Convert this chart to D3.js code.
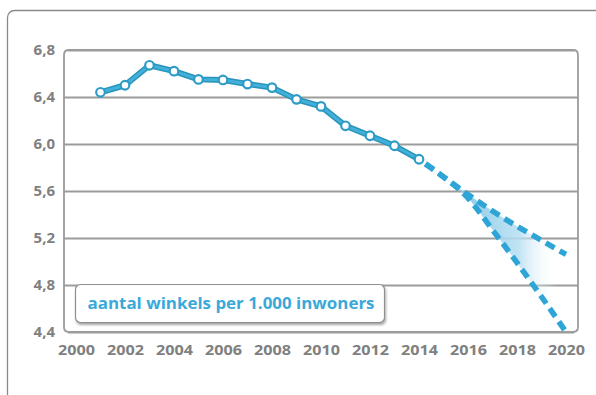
<!DOCTYPE html>
<html>
<head>
<meta charset="utf-8">
<script src="https://cdn.jsdelivr.net/npm/d3@7"></script>
<style>
  html, body { margin: 0; padding: 0; background: #ffffff; }
  svg { display: block; }
  .tick text { font-family: "Open Sans", "Lato", sans-serif; font-weight: 700; fill: #808080; }
</style>
</head>
<body>
<svg id="chart" width="596" height="395"></svg>
<script>
// Shops per 1,000 inhabitants, observed series
const years = [2001, 2002, 2003, 2004, 2005, 2006, 2007, 2008, 2009, 2010, 2011, 2012, 2013, 2014];
const shopsPer1000 = [6.44, 6.50, 6.67, 6.62, 6.55, 6.545, 6.51, 6.48, 6.38, 6.32, 6.155, 6.07, 5.985, 5.87];

// Forecast band: optimistic and pessimistic scenarios
const forecastYears = [2014, 2015, 2016, 2017, 2018, 2019, 2020];
const forecastHigh = [5.87, 5.72, 5.57, 5.43, 5.30, 5.18, 5.06];
const forecastLow = [5.87, 5.72, 5.54, 5.27, 4.99, 4.70, 4.40];

// Axis ticks
const yTicks = [4.4, 4.8, 5.2, 5.6, 6.0, 6.4, 6.8];
const xTicks = [2000, 2002, 2004, 2006, 2008, 2010, 2012, 2014, 2016, 2018, 2020];
const legendLabel = "aantal winkels per 1.000 inwoners";

const svg = d3.select("#chart");

const x = d3.scaleLinear().domain([2000, 2020]).range([76, 566]);
const y = d3.scaleLinear().domain([4.4, 6.8]).range([332, 50]);
const frameLeft = 64, frameRight = 578;

// outer card border
svg.append("rect")
  .attr("x", 7.5).attr("y", 10.5)
  .attr("width", 640).attr("height", 420)
  .attr("rx", 7)
  .attr("fill", "#ffffff")
  .attr("stroke", "#8a8a8a")
  .attr("stroke-width", 1.3);

const defs = svg.append("defs");
const grad = defs.append("linearGradient")
  .attr("id", "bandFade")
  .attr("gradientUnits", "userSpaceOnUse")
  .attr("x1", x(2016.2)).attr("x2", x(2019.6))
  .attr("y1", 0).attr("y2", 0);
grad.append("stop").attr("offset", "0%").attr("stop-color", "#8fcde9").attr("stop-opacity", 0.95);
grad.append("stop").attr("offset", "55%").attr("stop-color", "#b5def1").attr("stop-opacity", 0.85);
grad.append("stop").attr("offset", "100%").attr("stop-color", "#ffffff").attr("stop-opacity", 0);

const shadow = defs.append("filter").attr("id", "boxShadow")
  .attr("x", "-10%").attr("y", "-30%").attr("width", "120%").attr("height", "170%");
shadow.append("feDropShadow")
  .attr("dx", 1).attr("dy", 2).attr("stdDeviation", 1.2)
  .attr("flood-color", "#000").attr("flood-opacity", 0.35);

// plot frame with rounded corners
const r = 5;
svg.append("path")
  .attr("d", `M${frameLeft + r},${y(6.8)} Q${frameLeft},${y(6.8)} ${frameLeft},${y(6.8) + r}
              L${frameLeft},${y(4.4) - r} Q${frameLeft},${y(4.4)} ${frameLeft + r},${y(4.4)}
              L${frameRight - r},${y(4.4)} Q${frameRight},${y(4.4)} ${frameRight},${y(4.4) - r}
              L${frameRight},${y(6.8) + r} Q${frameRight},${y(6.8)} ${frameRight - r},${y(6.8)} Z`)
  .attr("fill", "none")
  .attr("stroke", "#9c9c9c")
  .attr("stroke-width", 1.8);

// horizontal gridlines with value labels
const yAxis = d3.axisLeft(y)
  .tickValues(yTicks)
  .tickSize(-(frameRight - frameLeft))
  .tickPadding(9)
  .tickFormat(d => d3.format(".1f")(d).replace(".", ","));
const gy = svg.append("g")
  .attr("transform", `translate(${frameLeft},0)`)
  .call(yAxis);
gy.select(".domain").remove();
gy.selectAll(".tick line")
  .attr("stroke", "#9c9c9c")
  .attr("stroke-width", 1.8)
  .filter(d => d === 4.4 || d === 6.8)
  .attr("x1", 4).attr("x2", frameRight - frameLeft - 4);
gy.selectAll(".tick text").attr("font-size", 15).attr("dy", "0.32em");

// year labels
const xAxis = d3.axisBottom(x).tickValues(xTicks).tickSize(0).tickPadding(12).tickFormat(d3.format("d"));
const gx = svg.append("g")
  .attr("transform", `translate(0,${y(4.4)})`)
  .call(xAxis);
gx.select(".domain").remove();
gx.selectAll(".tick text").attr("font-size", 15).attr("textLength", 37).attr("lengthAdjust", "spacingAndGlyphs");

// forecast band fill
const bandData = forecastYears.map((yr, i) => ({ yr, hi: forecastHigh[i], lo: forecastLow[i] }));
svg.append("path")
  .datum(bandData)
  .attr("d", d3.area().x(d => x(d.yr)).y0(d => y(d.lo)).y1(d => y(d.hi)).curve(d3.curveMonotoneX))
  .attr("fill", "url(#bandFade)");

// forecast dashed lines
[forecastHigh, forecastLow].forEach(series => {
  svg.append("path")
    .datum(forecastYears.map((yr, i) => [yr, series[i]]))
    .attr("d", d3.line().x(d => x(d[0])).y(d => y(d[1])).curve(d3.curveMonotoneX))
    .attr("fill", "none")
    .attr("stroke", "#2ea5d6")
    .attr("stroke-width", 5.5)
    .attr("stroke-dasharray", "10,6")
    .attr("stroke-dashoffset", -8);
});

// observed line
const obs = years.map((yr, i) => [yr, shopsPer1000[i]]);
const line = d3.line().x(d => x(d[0])).y(d => y(d[1]));
svg.append("path").datum(obs).attr("d", line)
  .attr("fill", "none").attr("stroke", "#2a93bb").attr("stroke-width", 6).attr("stroke-linejoin", "round");
svg.append("path").datum(obs).attr("d", line)
  .attr("fill", "none").attr("stroke", "#42b1da").attr("stroke-width", 3).attr("stroke-linejoin", "round");

svg.append("g").selectAll("circle")
  .data(obs)
  .join("circle")
  .attr("cx", d => x(d[0]))
  .attr("cy", d => y(d[1]))
  .attr("r", 4.3)
  .attr("fill", "#ffffff")
  .attr("stroke", "#2c9cc6")
  .attr("stroke-width", 2.2);

// legend box
const lg = svg.append("g");
lg.append("rect")
  .attr("x", 75.5).attr("y", 284.5)
  .attr("width", 309).attr("height", 38)
  .attr("rx", 5)
  .attr("fill", "#ffffff")
  .attr("stroke", "#8f8f8f")
  .attr("stroke-width", 1.2)
  .attr("filter", "url(#boxShadow)");
lg.append("text")
  .attr("x", 231).attr("y", 303)
  .attr("dy", "0.35em")
  .attr("text-anchor", "middle")
  .attr("font-family", "'Open Sans', 'Lato', sans-serif")
  .attr("font-weight", 700)
  .attr("font-size", 16)
  .attr("textLength", 287)
  .attr("lengthAdjust", "spacingAndGlyphs")
  .attr("fill", "#3aa9d9")
  .text(legendLabel);
</script>
</body>
</html>
